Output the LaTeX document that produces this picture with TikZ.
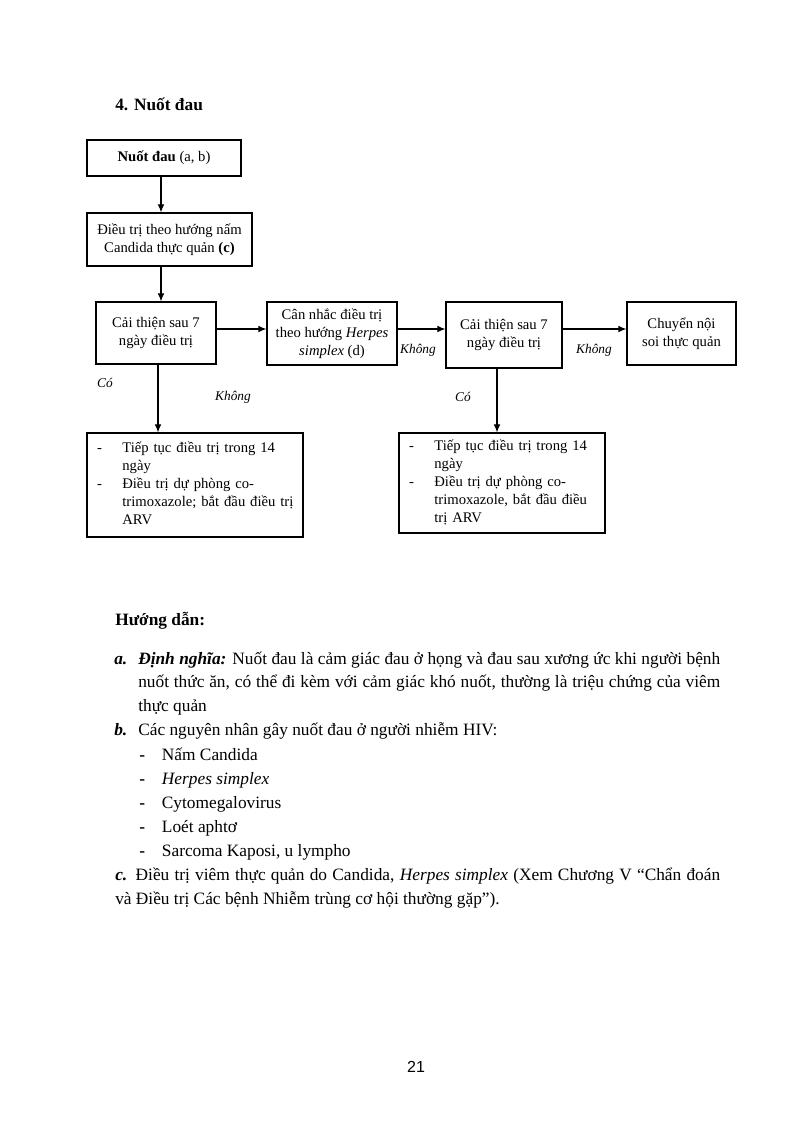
\documentclass[tikz,border=0pt]{standalone}
\usepackage{fontspec}
\setmainfont{Liberation Serif}
\setsansfont{Liberation Sans}
\usetikzlibrary{arrows.meta, positioning}
\newcommand{\flowfont}{\fontsize{11pt}{13.5pt}\selectfont}
\newcommand{\pagefont}{\fontsize{13pt}{17.6pt}\selectfont}
\tikzset{
  box/.style={draw, line width=0.9pt, align=center, font=\flowfont, inner sep=2pt},
  arr/.style={-{Latex[length=6pt,width=5pt]}, line width=0.8pt},
  lbl/.style={font=\fontsize{10pt}{12pt}\selectfont\itshape},
  txt/.style={anchor=base west, inner sep=0pt, font=\pagefont}
}

\begin{document}
\begin{tikzpicture}[x=0.75pt, y=-0.75pt]
\useasboundingbox[fill=white] (0,0) rectangle (794,1124);

% heading
\node[txt, font=\pagefont\bfseries] (title) at (115,110) {4. Nuốt đau};

% flow chart
\node[box, minimum width=115.5pt, minimum height=27pt] (nuot) at (164,158) {\textbf{Nuốt đau} (a, b)};
\node[box, minimum width=123.75pt, minimum height=39.75pt] (nam) at (169.5,239.5) {Điều trị theo hướng nấm\\Candida thực quản \textbf{(c)}};
\node[box, minimum width=90pt, minimum height=46.5pt] (caithien1) at (156,333) {Cải thiện sau 7\\ngày điều trị};
\node[box, minimum width=97.5pt, minimum height=47.25pt] (herpes) at (332,333.5) {Cân nhắc điều trị\\theo hướng \textit{Herpes}\\\textit{simplex} (d)};
\node[box, minimum width=87pt, minimum height=49.5pt] (caithien2) at (504,335) {Cải thiện sau 7\\ngày điều trị};
\node[box, minimum width=81.75pt, minimum height=47.25pt] (noisoi) at (681.5,333.5) {Chuyển nội\\soi thực quản};

\node[box, align=left, inner xsep=7.5pt, text width=147pt, minimum height=78pt] (tieptuc1) at (195,485) {\begin{tabular}{@{}p{19pt}@{}l@{}}-&Tiếp tục điều trị trong 14\\&ngày\\-&Điều trị dự phòng co-\\&trimoxazole; bắt đầu điều trị\\&ARV\end{tabular}};
\node[box, align=left, inner xsep=7.5pt, text width=139.5pt, minimum height=75pt] (tieptuc2) at (502,483) {\begin{tabular}{@{}p{19pt}@{}l@{}}-&Tiếp tục điều trị trong 14\\&ngày\\-&Điều trị dự phòng co-\\&trimoxazole, bắt đầu điều\\&trị ARV\end{tabular}};

% connectors
\coordinate (trunk) at (161,0);
\coordinate (row) at (0,329);
\coordinate (colA) at (158,0);
\coordinate (colB) at (497,0);
\draw[arr] (nuot.south -| trunk) -- (nam.north -| trunk);
\draw[arr] (nam.south -| trunk) -- (caithien1.north -| trunk);
\draw[arr] (caithien1.east |- row) -- (herpes.west |- row);
\draw[arr] (herpes.east |- row) -- (caithien2.west |- row);
\draw[arr] (caithien2.east |- row) -- (noisoi.west |- row);
\draw[arr] (caithien1.south -| colA) -- (tieptuc1.north -| colA);
\draw[arr] (caithien2.south -| colB) -- (tieptuc2.north -| colB);

\node[lbl] (co1) at (105,383) {Có};
\node[lbl] (khong1) at (233,397) {Không};
\node[lbl] (co2) at (463,397) {Có};
\node[lbl] (khong2) at (418,350) {Không};
\node[lbl] (khong3) at (594,350) {Không};

% guide text
\node[txt, font=\pagefont\bfseries] (huongdan) at (115,625) {Hướng dẫn:};
\node[txt] (dinhnghia) at (114,664) {\makebox[18pt][l]{\textbf{\textit{a.}}}\makebox[436.5pt][s]{\textbf{\textit{Định nghĩa:}} Nuốt đau là cảm giác đau ở họng và đau sau xương ức khi người bệnh}};
\node[txt] (dinhnghia2) at (138,687) {\makebox[436.5pt][s]{nuốt thức ăn, có thể đi kèm với cảm giác khó nuốt, thường là triệu chứng của viêm}};
\node[txt] (dinhnghia3) at (138,711) {thực quản};
\node[txt] (nguyennhan) at (114,735) {\makebox[18pt][l]{\textbf{\textit{b.}}}Các nguyên nhân gây nuốt đau ở người nhiễm HIV:};
\foreach \cause [count=\i] in {Nấm Candida, \textit{Herpes simplex}, Cytomegalovirus, Loét aphtơ, {Sarcoma Kaposi, u lympho}}
  \node[txt] (cause\i) at (139,{760+24*(\i-1)}) {\makebox[17pt][l]{\textbf{-}}\cause};
\node[txt] (dieutri) at (115,880) {\makebox[453.75pt][s]{\textbf{\textit{c.}} Điều trị viêm thực quản do Candida, \textit{Herpes simplex} (Xem Chương V “Chẩn đoán}};
\node[txt] (dieutri2) at (115,904) {và Điều trị Các bệnh Nhiễm trùng cơ hội thường gặp”).};

\node[font=\sffamily\fontsize{12pt}{14pt}\selectfont] (trang) at (416,1067) {21};
\end{tikzpicture}
\end{document}
